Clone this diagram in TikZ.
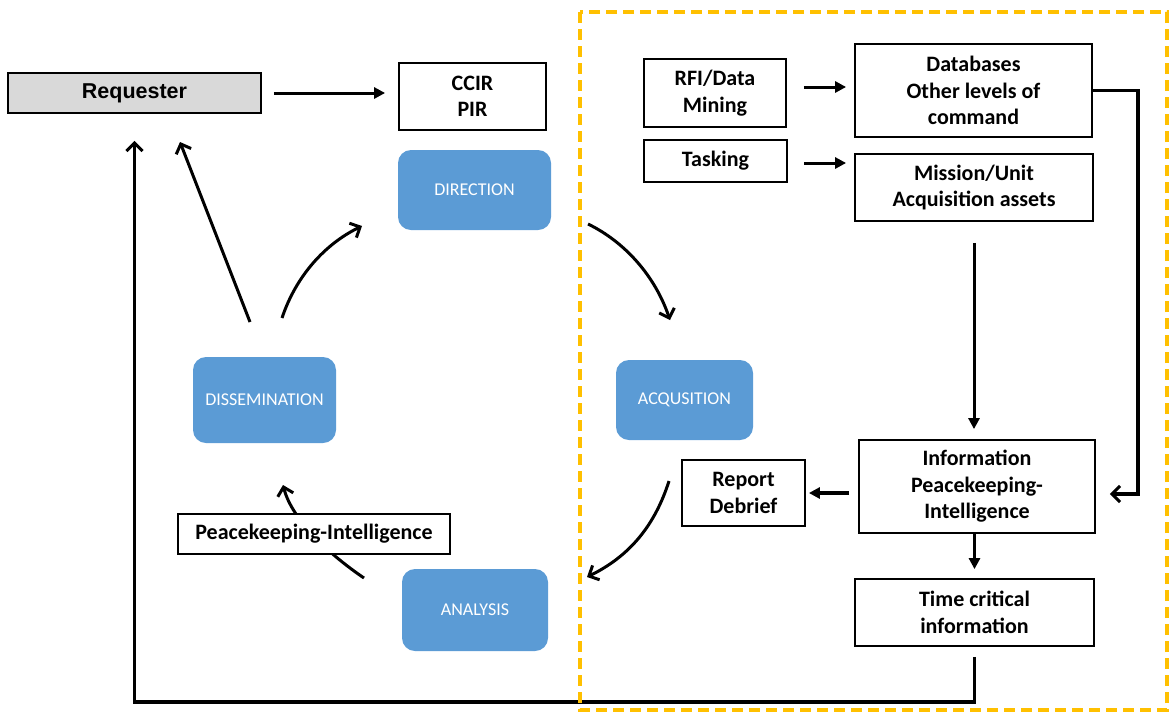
\documentclass[tikz,border=0pt]{standalone}
\usepackage{fontspec}
\setmainfont{Carlito}
\newfontfamily\arialfont{Liberation Sans}
\usetikzlibrary{arrows.meta}
\definecolor{blueb}{HTML}{5B9BD5}
\definecolor{grayb}{HTML}{D9D9D9}
\definecolor{goldd}{HTML}{FFC000}
\begin{document}
\begin{tikzpicture}[x=1pt,y=-1pt,
  wbox/.style={draw=black, line width=1.8pt, fill=white, inner sep=0pt, align=center,
    font=\fontsize{22}{26.5}\selectfont\bfseries},
  bbox/.style={fill=blueb, rounded corners=13pt, inner sep=0pt, align=center, text=white,
    font=\fontsize{18}{22}\selectfont},
  sarr/.style={line width=3pt, -{Triangle[length=11pt,width=11pt]}},
  barr/.style={line width=3pt, -{Straight Barb[length=8pt,width=16pt,line width=3pt]}},
]
\useasboundingbox (0,0) rectangle (1170,713);

% boxes
\node[wbox, fill=grayb, minimum width=253pt, minimum height=40pt,
      font=\arialfont\fontsize{21.5}{26}\selectfont\bfseries] (req) at (134.5,93) {Requester};
\node[wbox, minimum width=147pt, minimum height=67pt] (ccir) at (472.5,96.5) {CCIR\\PIR};
\node[bbox, minimum width=153pt, minimum height=80pt] (dir) at (474.5,190) {DIRECTION};
\node[bbox, minimum width=143pt, minimum height=86pt] (diss) at (264.5,400) {DISSEMINATION};
\node[bbox, minimum width=137pt, minimum height=80pt] (acq) at (684.5,400) {ACQUSITION};
\node[bbox, minimum width=146pt, minimum height=82pt] (ana) at (475,610) {ANALYSIS};

\node[wbox, minimum width=142pt, minimum height=68pt] (rfi) at (715,93) {RFI/Data\\Mining};
\node[wbox, line width=2.4pt, minimum width=143pt, minimum height=42pt] (task) at (715.5,161) {Tasking};
\node[wbox, minimum width=237pt, minimum height=93pt] (db) at (973.5,90.5) {Databases\\Other levels of\\command};
\node[wbox, minimum width=238pt, minimum height=67pt] (mis) at (974,187.5) {Mission/Unit\\Acquisition assets};
\node[wbox, minimum width=236pt, minimum height=93pt] (info) at (977,486.5) {Information\\Peacekeeping-\\Intelligence};
\node[wbox, minimum width=123pt, minimum height=66pt] (rep) at (743.5,493) {Report\\Debrief};
\node[wbox, minimum width=239pt, minimum height=67pt] (tc) at (974.5,612.5) {Time critical\\information};

% free ends of the cycle arrows
\coordinate (c1s) at (282,318);
\coordinate (c1e) at (362,226);
\coordinate (c2s) at (588,224);
\coordinate (c2e) at (670,320);
\coordinate (c3s) at (669,481);
\coordinate (c3e) at (587,577);
\coordinate (c4s) at (364,578);
\coordinate (c4e) at (283,485);
\coordinate (dgs) at (250,322);
\coordinate (dge) at (180,142);

% cycle arrows
\draw[barr] (c1s) .. controls (296,276) and (325,244) .. (c1e);
\draw[barr] (c2s) .. controls (625,242) and (655,276) .. (c2e);
\draw[barr] (c3s) .. controls (655,525) and (630,556) .. (c3e);
\draw[barr] (c4s) .. controls (330,555) and (292,520) .. (c4e);
\draw[barr] (dgs) -- (dge);

\node[wbox, minimum width=272pt, minimum height=40pt] (pk) at (314,534) {Peacekeeping-Intelligence};

% straight connectors
\draw[sarr, shorten <=12pt, shorten >=13pt] (req.east) -- (req.east -| ccir.west);
\draw[sarr, shorten <=17pt, shorten >=8pt] ([yshift=6pt]rfi.east) -- ([yshift=6pt]rfi.east -| db.west);
\draw[sarr, shorten <=16pt, shorten >=8pt] ([yshift=-2pt]task.east) -- ([yshift=-2pt]task.east -| mis.west);
\draw[sarr, shorten <=21pt, shorten >=10pt] (mis.south) -- (mis.south |- info.north);
\draw[sarr, line width=4.5pt, shorten <=9pt, shorten >=3pt] (rep.east -| info.west) -- (rep.east);
\draw[sarr, shorten >=9pt] (tc.north |- info.south) -- (tc.north);
\draw[barr, line width=3.5pt] (db.east) -- ++(45,0) |- ([xshift=14pt,yshift=-7.5pt]info.east);
\draw[barr, line width=3.5pt, shorten >=27pt] ([yshift=-10pt]tc.south) -- ++(0,45) -| (req.south);

% dashed frame
\draw[goldd, line width=3.5pt, dash pattern=on 11pt off 6pt] (580,12) rectangle (1167,710);
\end{tikzpicture}
\end{document}
